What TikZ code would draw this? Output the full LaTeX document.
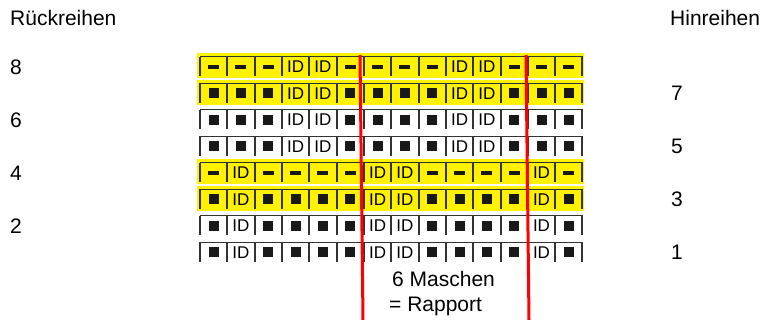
\documentclass[tikz,border=0pt]{standalone}
\usepackage{fontspec}
\setmainfont{Liberation Sans}
\usepackage{tikz}
\tikzstyle{txt} = [inner sep=0pt, font=\fontsize{21}{25}\selectfont]
\tikzstyle{gridline} = [draw=black!80]
\tikzstyle{rapport} = [red, line width=3pt]
\tikzset{
    cellk/.style={fill=black!90, minimum width=10pt, minimum height=10pt, inner sep=0pt, node contents={}},
    celld/.style={fill=black!90, minimum width=11pt, minimum height=3.8pt, inner sep=0pt, node contents={}},
    celli/.style={inner sep=0pt, font=\fontsize{17}{17}\selectfont, node contents={ID}},
}

\begin{document}
\begin{tikzpicture}[x=1pt, y=-1pt]
    \useasboundingbox (0,0) rectangle (764,320);

    % Rows
    \foreach \r/\yel/\pat in {
        8/1/{d,d,d,i,i,d,d,d,d,i,i,d,d,d},
        7/1/{k,k,k,i,i,k,k,k,k,i,i,k,k,k},
        6/0/{k,k,k,i,i,k,k,k,k,i,i,k,k,k},
        5/0/{k,k,k,i,i,k,k,k,k,i,i,k,k,k},
        4/1/{d,i,d,d,d,d,i,i,d,d,d,d,i,d},
        3/1/{k,i,k,k,k,k,i,i,k,k,k,k,i,k},
        2/0/{k,i,k,k,k,k,i,i,k,k,k,k,i,k},
        1/0/{k,i,k,k,k,k,i,i,k,k,k,k,i,k}}{
        \pgfmathsetmacro{\yt}{57+(8-\r)*26.5}
        \ifnum\yel=1 \fill[yellow] (197,\yt-3.5) rectangle (584,\yt+21.5); \fi
        \draw[gridline, line width=1pt] (200,\yt) -- (582.5,\yt);
        \foreach \k in {0,...,14}
            \draw[gridline, line width=2pt] (200+27.32*\k,\yt) -- ++(0,19.5);
        \foreach \s [count=\c] in \pat
            \node[cell\s, at={(200+27.32*\c-13.66,\yt+10)}, name=c\r-\c];
    }

    % Rapport
    \coordinate (ra) at (360,55);
    \coordinate (rb) at (363,320);
    \coordinate (rc) at (526,55);
    \coordinate (rd) at (529,320);
    \draw[rapport] (ra) -- (rb);
    \draw[rapport] (rc) -- (rd);

    % Labels
    \node[txt, anchor=base west] (back) at (10,26) {Rückreihen};
    \node[txt, anchor=base west] (forth) at (670,26) {Hinreihen};
    \foreach \n in {8,6,4,2}
        \node[txt, anchor=west] (n\n) at (10,{57+(8-\n)*26.5+10}) {\n};
    \foreach \n in {7,5,3,1}
        \node[txt, anchor=west] (n\n) at (671,{57+(8-\n)*26.5+10}) {\n};
    \node[txt, anchor=base west] (mesh) at (392,287) {6 Maschen};
    \node[txt, anchor=base west] (rapp) at (389,312) {= Rapport};
\end{tikzpicture}
\end{document}
